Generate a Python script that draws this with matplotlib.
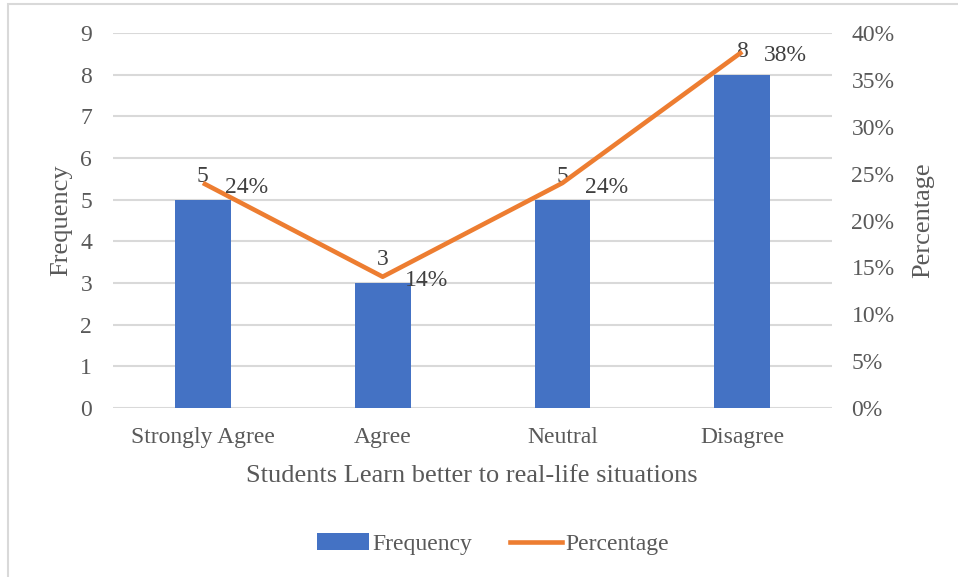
import matplotlib.pyplot as plt
from matplotlib.patches import Rectangle, Patch
from matplotlib.lines import Line2D
from matplotlib.ticker import PercentFormatter

categories = ["Strongly Agree", "Agree", "Neutral", "Disagree"]
frequency = [5, 3, 5, 8]
percentage = [0.24, 0.14, 0.24, 0.38]

bar_color = "#4472C4"
line_color = "#ED7D31"
text_color = "#595959"
label_color = "#404040"
grid_color = "#D9D9D9"

plt.rcParams["font.family"] = ["Liberation Serif", "DejaVu Serif"]
plt.rcParams["font.size"] = 17

fig = plt.figure(figsize=(9.58, 5.77), dpi=100)
ax = fig.add_axes([0.118, 0.2929, 0.7505, 0.6499])
ax2 = ax.twinx()

# chart area border
fig.patches.append(Rectangle((8 / 958, -0.1), 1.2, 1 - 4 / 577 + 0.1,
                             transform=fig.transFigure, fill=False,
                             edgecolor=grid_color, lw=1.5, zorder=0))

x = list(range(len(categories)))
ax.bar(x, frequency, width=0.31, color=bar_color, zorder=2)
ax.set_ylim(0, 9)
ax.set_yticks(range(0, 10))
ax.set_xlim(-0.5, len(categories) - 0.5)
ax.set_xticks(x)
ax.set_xticklabels(categories)
ax.grid(axis="y", color=grid_color, lw=1.5, zorder=0)
ax.set_axisbelow(True)

ax2.plot(x, percentage, color=line_color, lw=3.3, solid_capstyle="butt", zorder=3)
ax2.set_ylim(0, 0.40)
ax2.set_yticks([i * 0.05 for i in range(9)])
ax2.yaxis.set_major_formatter(PercentFormatter(1.0, decimals=0))

for a in (ax, ax2):
    for s in a.spines.values():
        s.set_visible(False)
    a.tick_params(length=0, colors=text_color, labelsize=17)
ax.tick_params(axis="y", pad=15)
ax.tick_params(axis="x", pad=14)
ax2.tick_params(axis="y", pad=14)

ax.set_ylabel("Frequency", color=text_color, fontsize=19)
ax.yaxis.set_label_coords(-0.057, 0.5)
ax2.set_ylabel("Percentage", color=text_color, fontsize=19)
ax2.yaxis.set_label_coords(1.111, 0.5)
ax.set_xlabel("Students Learn better to real-life situations", color=text_color, fontsize=19)
ax.xaxis.set_label_coords(0.499, -0.152)

# value labels
for xi, f in zip(x, frequency):
    ax.annotate(str(f), (xi, f), xytext=(0, 17), textcoords="offset points",
                ha="center", va="center", color=label_color, fontsize=17, zorder=4)
for xi, p in zip(x, percentage):
    ax2.annotate(f"{p * 100:.0f}%", (xi, p), xytext=(16, -3), textcoords="offset points",
                 ha="left", va="center", color=label_color, fontsize=17, zorder=4)

handles = [Patch(facecolor=bar_color, edgecolor="none"),
           Line2D([0], [0], color=line_color, lw=3.3)]
fig.legend(handles, ["Frequency", "Percentage"], loc="center",
           bbox_to_anchor=(493 / 958, 1 - 544 / 577), ncol=2, frameon=False,
           handlelength=2.2, handletextpad=0.15, columnspacing=1.6,
           labelcolor=text_color, fontsize=17)

fig.savefig("out.png", dpi=100)
